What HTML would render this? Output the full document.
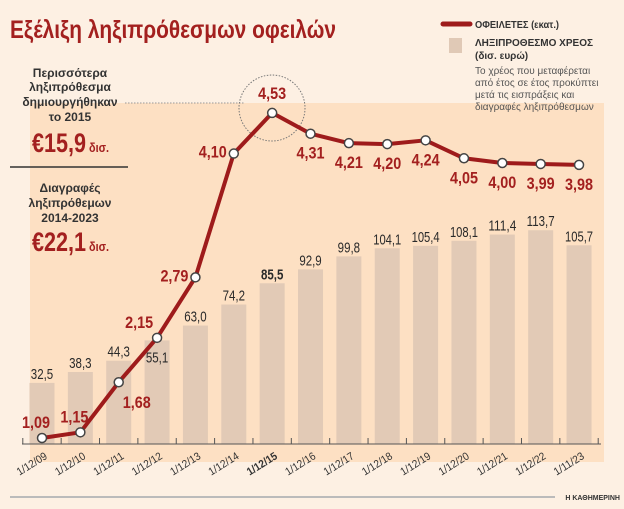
<!DOCTYPE html>
<html><head><meta charset="utf-8"><style>
html,body{margin:0;padding:0;background:#fdf0e3;}
svg{display:block;}
.c{font-family:"Liberation Sans Narrow","Liberation Sans",sans-serif;}
</style></head><body>
<svg id="chart" width="624" height="509" xmlns="http://www.w3.org/2000/svg">
<rect x="0" y="0" width="624" height="509" fill="#fdf0e3"/>
<rect x="30" y="103" width="574" height="359" fill="#fde0c3"/>
<text x="10" y="38" class="c" font-size="25" font-weight="bold" fill="#a3201f" textLength="326" lengthAdjust="spacingAndGlyphs">Εξέλιξη ληξιπρόθεσμων οφειλών</text>
<g id="legend" font-family="Liberation Sans, sans-serif">
<line x1="443" y1="24" x2="470" y2="24" stroke="#9e1b1b" stroke-width="5" stroke-linecap="round"/>
<text x="475" y="28" font-size="10" font-weight="bold" fill="#333" textLength="84" lengthAdjust="spacingAndGlyphs">ΟΦΕΙΛΕΤΕΣ (εκατ.)</text>
<rect x="449" y="38" width="13" height="15" fill="#e0c9b6"/>
<text x="475" y="46" font-size="10" font-weight="bold" fill="#333" textLength="118" lengthAdjust="spacingAndGlyphs">ΛΗΞΙΠΡΟΘΕΣΜΟ ΧΡΕΟΣ</text>
<text x="475" y="59" font-size="10" font-weight="bold" fill="#333">(δισ. ευρώ)</text>
<text font-size="10" fill="#555">
<tspan x="475" y="74">Το χρέος που μεταφέρεται</tspan>
<tspan x="475" y="86">από έτος σε έτος προκύπτει</tspan>
<tspan x="475" y="98">μετά τις εισπράξεις και</tspan>
<tspan x="475" y="110">διαγραφές ληξιπρόθεσμων</tspan>
</text>
</g>
<g font-family="Liberation Sans, sans-serif" text-anchor="middle" font-weight="bold">
<text font-size="12" fill="#333"><tspan x="70" y="77">Περισσότερα</tspan><tspan x="70" y="91">ληξιπρόθεσμα</tspan><tspan x="70" y="106">δημιουργήθηκαν</tspan><tspan x="70" y="121">το 2015</tspan></text>
<text x="32" y="152" text-anchor="start" class="c" font-size="27" fill="#a3201f" textLength="54" lengthAdjust="spacingAndGlyphs">€15,9</text>
<text x="89" y="152" text-anchor="start" class="c" font-size="13" fill="#a3201f" textLength="20" lengthAdjust="spacingAndGlyphs">δισ.</text>
</g>
<line x1="125" y1="103" x2="245" y2="103" stroke="#999" stroke-dasharray="1.5,1.5"/>
<line x1="10" y1="167" x2="128" y2="167" stroke="#333" stroke-width="1.5"/>
<g font-family="Liberation Sans, sans-serif" text-anchor="middle" font-weight="bold">
<text font-size="12" fill="#333"><tspan x="70" y="192">Διαγραφές</tspan><tspan x="70" y="207">ληξιπρόθεμων</tspan><tspan x="70" y="222">2014-2023</tspan></text>
<text x="32" y="251" text-anchor="start" class="c" font-size="27" fill="#a3201f" textLength="54" lengthAdjust="spacingAndGlyphs">€22,1</text>
<text x="89" y="251" text-anchor="start" class="c" font-size="13" fill="#a3201f" textLength="20" lengthAdjust="spacingAndGlyphs">δισ.</text>
</g>
<circle cx="272" cy="108" r="33" fill="none" stroke="#777" stroke-dasharray="1.5,1.5"/>
<g id="bars"></g><g id="axis"></g><g id="line"></g><g id="labels"></g>
<line x1="10" y1="497" x2="555" y2="497" stroke="#bbb" stroke-width="2"/>
<text x="620" y="500" text-anchor="end" font-family="Liberation Sans, sans-serif" font-size="7" font-weight="bold" fill="#333">Η ΚΑΘΗΜΕΡΙΝΗ</text>
</svg>
<script>
const categories=["1/12/09","1/12/10","1/12/11","1/12/12","1/12/13","1/12/14","1/12/15","1/12/16","1/12/17","1/12/18","1/12/19","1/12/20","1/12/21","1/12/22","1/11/23"];
const debtValues=[32.5,38.3,44.3,55.1,63.0,74.2,85.5,92.9,99.8,104.1,105.4,108.1,111.4,113.7,105.7];
const debtorValues=[1.09,1.15,1.68,2.15,2.79,4.10,4.53,4.31,4.21,4.20,4.24,4.05,4.00,3.99,3.98];
const debtorLabelPos=["al","al","br","ll","l","l","t","b","b","b","b","b","b","b","b"];
const NS="http://www.w3.org/2000/svg";
const axisY=444;
function xs(i){return 42+i*38.36;}
function yBar(v){return axisY-v*1.88;}
function yLine(v){return 541-v*94.5;}
function fmt(v,d){return v.toFixed(d).replace('.',',');}
function mk(tag,attrs,parent){const e=document.createElementNS(NS,tag);for(const k in attrs)e.setAttribute(k,attrs[k]);document.getElementById(parent).appendChild(e);return e;}
categories.forEach((c,i)=>{
 const b=mk('rect',{x:xs(i)-12.5,y:yBar(debtValues[i]),width:25,height:axisY-yBar(debtValues[i]),fill:'#e2cab6'},'bars');
 
 
 const s=fmt(debtValues[i],1);
 const off=(i===3)?22:-4;
 const t=mk('text',{x:xs(i),y:yBar(debtValues[i])+off,'text-anchor':'middle','font-size':15,fill:'#2a2a2a','class':'c','font-weight':i==6?'bold':'normal',textLength:s.length*5.6,lengthAdjust:'spacingAndGlyphs'},'labels');
 t.textContent=s;
 
 
 const xl=mk('text',{x:0,y:0,'text-anchor':'end','font-size':11,fill:'#333','class':'c','font-weight':i==6?'bold':'normal',textLength:c.length*4.8,lengthAdjust:'spacingAndGlyphs',transform:'translate('+(xs(i)+6)+',458) rotate(-32)'},'axis');
 xl.textContent=c;
 
 
});
const ax=mk('line',{x1:22,y1:axisY,x2:601,y2:axisY,stroke:'#555','stroke-width':1},'axis');


for(let i=0;i<=categories.length;i++){
 const tk=mk('line',{x1:xs(i)-19.2,y1:axisY-6,x2:xs(i)-19.2,y2:axisY,stroke:'#555'},'axis');
 
 
}
const pts=debtorValues.map((v,i)=>xs(i)+','+yLine(v)).join(' ');
const pl=mk('polyline',{points:pts,fill:'none',stroke:'#9e1b1b','stroke-width':4,'stroke-linejoin':'round'},'line');


debtorValues.forEach((v,i)=>{
 const c=mk('circle',{cx:xs(i),cy:yLine(v),r:4.5,fill:'#fff',stroke:'#444','stroke-width':1.5},'line');
 
 
 let dx=0,dy=0,anchor='middle';const p=debtorLabelPos[i];
 if(p==='al'){dx=-6;dy=-10;}
 if(p==='ll'){dx=-18;dy=-10;}
 if(p==='br'){dx=18;dy=26;}
 if(p==='l'){dx=-7;dy=4;anchor='end';}
 if(p==='t'){dx=0;dy=-14;}
 if(p==='b'){dx=0;dy=25;}
 const s=fmt(v,2);
 const t=mk('text',{x:xs(i)+dx,y:yLine(v)+dy,'text-anchor':anchor,'font-size':17,'font-weight':'bold',fill:'#a3201f','class':'c',textLength:s.length*7,lengthAdjust:'spacingAndGlyphs'},'labels');
 t.textContent=s;
 
 
});
</script>
</body></html>
